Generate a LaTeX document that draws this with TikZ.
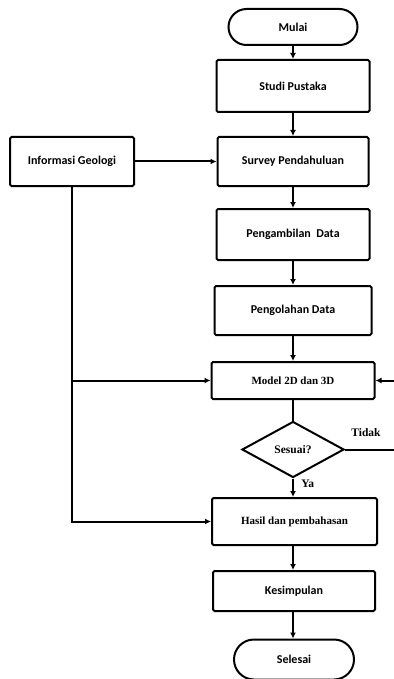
\documentclass[tikz,border=0pt]{standalone}
\usepackage{fontspec}
\setmainfont{Liberation Serif}
\newfontfamily\hum{Carlito}
\usetikzlibrary{arrows.meta,shapes.geometric,shapes.misc}
\begin{document}
\begin{tikzpicture}[x=1pt,y=-1pt,
  line width=2pt,
  box/.style={draw, rectangle, rounded corners=1.5pt, inner sep=0pt, font=\hum\bfseries\fontsize{12}{14}\selectfont},
  sbox/.style={box, font=\bfseries\fontsize{11}{13}\selectfont},
  term/.style={draw, rounded rectangle, inner sep=0pt, font=\hum\bfseries\fontsize{12}{14}\selectfont},
  dec/.style={draw, diamond, aspect=1.8, inner sep=0pt, font=\bfseries\fontsize{11.5}{13}\selectfont},
  lbl/.style={font=\bfseries\fontsize{11.5}{13}\selectfont},
  arr/.style={-{Latex[length=6pt,width=6pt]}}]
\useasboundingbox (0,0) rectangle (393,679);
\node[term, minimum width=129pt, minimum height=36pt] (mulai) at (293,27) {Mulai};
\node[box, minimum width=153pt, minimum height=52pt] (studi) at (293,86) {Studi Pustaka};
\node[box, minimum width=151pt, minimum height=49pt] (survey) at (293,161.5) {Survey Pendahuluan};
\node[box, minimum width=124pt, minimum height=49pt] (info) at (72,161.5) {Informasi Geologi};
\node[box, minimum width=153pt, minimum height=51pt] (ambil) at (293,234.5) {Pengambilan\ \ Data};
\node[box, minimum width=157pt, minimum height=49pt] (olah) at (293,310.5) {Pengolahan Data};
\node[sbox, minimum width=163pt, minimum height=37pt] (model) at (293,380.5) {Model 2D dan 3D};
\node[dec, minimum width=102pt, minimum height=56pt] (sesuai) at (293,449.5) {Sesuai?};
\node[sbox, minimum width=165pt, minimum height=47pt] (hasil) at (294.5,521.5) {Hasil dan pembahasan};
\node[box, minimum width=162pt, minimum height=40pt] (kesim) at (294,591) {Kesimpulan};
\node[term, minimum width=120pt, minimum height=40pt] (selesai) at (294,659.5) {Selesai};
\node[lbl] (tidak) at (366,433) {Tidak};
\node[lbl, anchor=west] (ya) at (297,484) {Ya};
\coordinate (br) at (396,449.5);
\coordinate (tr) at (396,380.5);
\coordinate (lj1) at (72,380.5);
\coordinate (lj2) at (72,521.5);
\coordinate (cx) at (293,0);
\draw[arr] (mulai) -- (studi);
\draw[arr] (studi) -- (survey);
\draw[arr] (info) -- (survey);
\draw[arr] (survey) -- (ambil);
\draw[arr] (ambil) -- (olah);
\draw[arr] (olah) -- (model);
\draw (model) -- (sesuai);
\draw[arr] (sesuai) -- (hasil.north -| sesuai.south);
\draw[arr] (hasil.south -| cx) -- (kesim.north -| cx);
\draw[arr] (kesim.south -| cx) -- (selesai.north -| cx);
\draw[arr] (sesuai.east) -- (br) -- (tr) -- (model.east);
\draw[arr] (info.south) -- (lj2) -- (hasil.west);
\draw[arr] (lj1) -- (model.west);
\end{tikzpicture}
\end{document}
